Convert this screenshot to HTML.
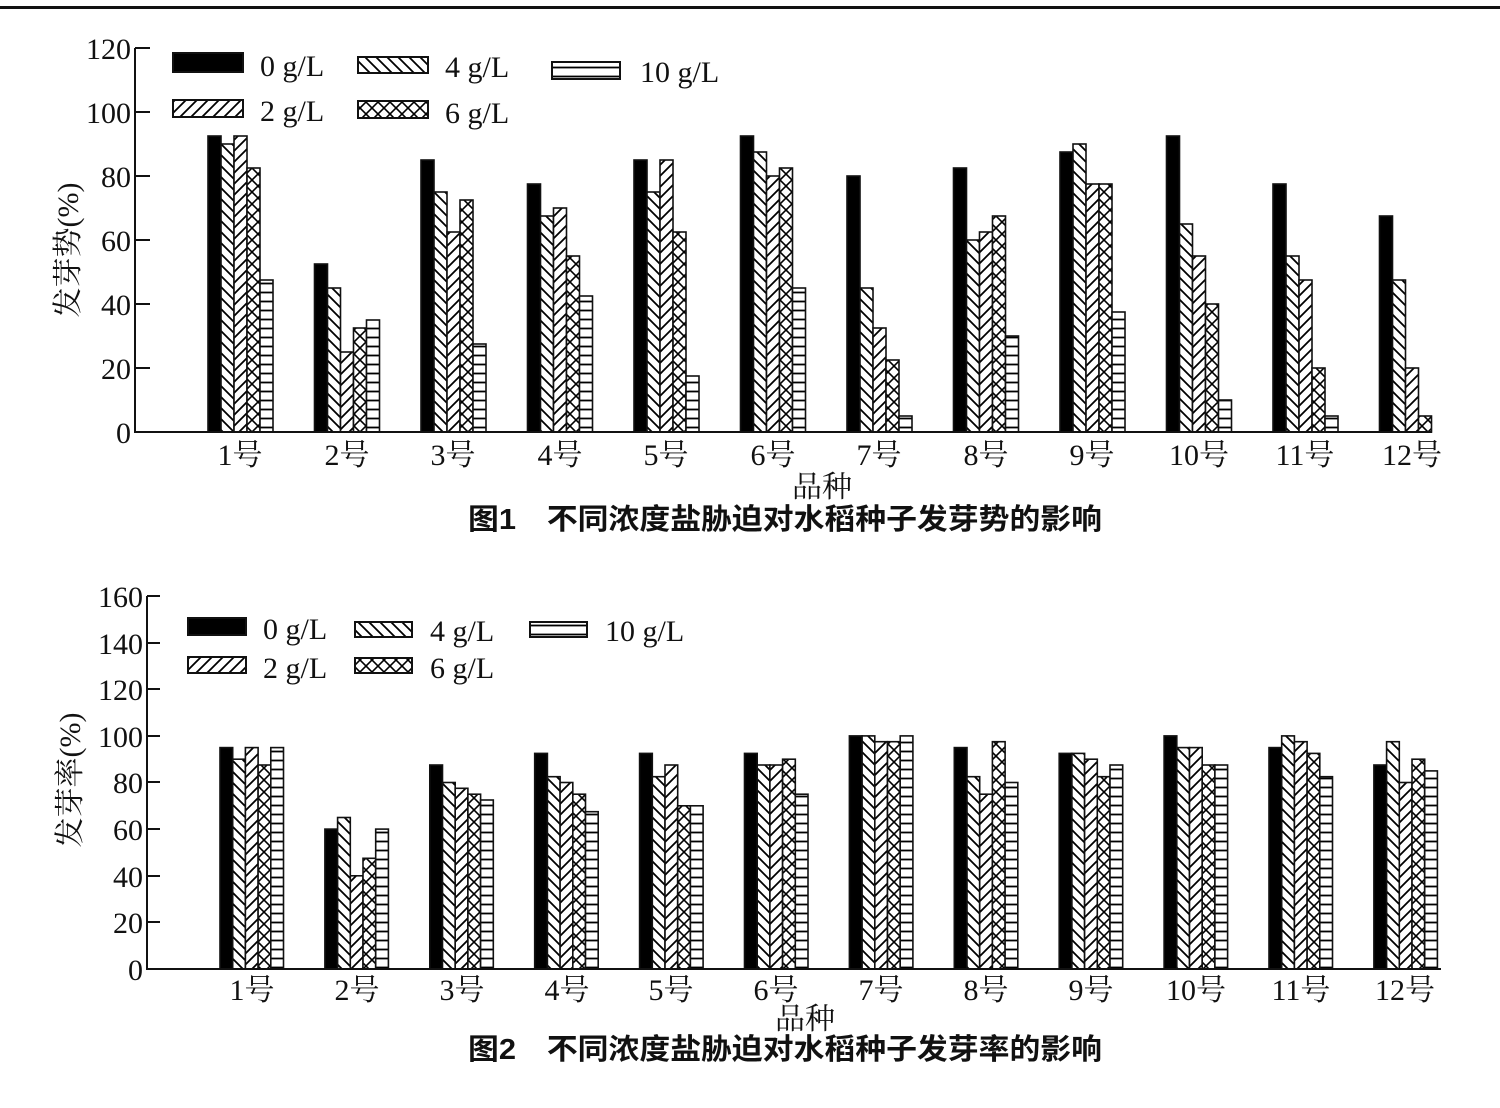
<!DOCTYPE html>
<html><head><meta charset="utf-8"><style>
html,body{margin:0;padding:0;background:#fff;}
svg{display:block;}
.t{font-family:"Liberation Serif","Noto Serif CJK SC",serif;font-size:30px;fill:#111;}
.c{font-family:"Liberation Sans","Noto Sans CJK SC",sans-serif;font-size:29px;font-weight:bold;fill:#111;}
</style></head><body>
<svg id="s" width="1500" height="1108" xmlns="http://www.w3.org/2000/svg">
<defs>
<pattern id="pb" width="11" height="11" patternUnits="userSpaceOnUse"><rect width="11" height="11" fill="#fff"/><path d="M-2,-2L13,13M-2,9L2,13M9,-2L13,2" stroke="#000" stroke-width="1.8"/></pattern>
<pattern id="ps" width="11" height="11" patternUnits="userSpaceOnUse"><rect width="11" height="11" fill="#fff"/><path d="M-2,13L13,-2M-2,2L2,-2M9,13L13,9" stroke="#000" stroke-width="1.8"/></pattern>
<pattern id="px" width="12" height="12" patternUnits="userSpaceOnUse"><rect width="12" height="12" fill="#fff"/><path d="M0,0L12,12M0,12L12,0" stroke="#000" stroke-width="1.6"/></pattern>
<pattern id="ph" width="9" height="9" patternUnits="userSpaceOnUse"><rect width="9" height="9" fill="#fff"/><path d="M0,4.5L9,4.5" stroke="#000" stroke-width="1.8"/></pattern>
</defs>
<rect x="0" y="6" width="1500" height="3" fill="#111"/>
<g id="bars"></g>
<g stroke="#111" stroke-width="2" fill="none">
<path d="M135,48V432H1432"/>
<path d="M135,48H150M135,112H150M135,176H150M135,240H150M135,304H150M135,368H150"/>
<path d="M147,596V969H1441"/>
<path d="M147,596H160M147,643H160M147,689H160M147,736H160M147,782H160M147,829H160M147,876H160M147,922H160"/>
</g>
<g class="t" text-anchor="end">
<text x="131" y="59">120</text><text x="131" y="123">100</text><text x="131" y="187">80</text><text x="131" y="251">60</text><text x="131" y="315">40</text><text x="131" y="379">20</text><text x="131" y="443">0</text>
<text x="143" y="607">160</text><text x="143" y="654">140</text><text x="143" y="700">120</text><text x="143" y="747">100</text><text x="143" y="793">80</text><text x="143" y="840">60</text><text x="143" y="887">40</text><text x="143" y="933">20</text><text x="143" y="980">0</text>
</g>
<g class="t" text-anchor="middle">
<text x="240" y="465">1号</text><text x="347" y="465">2号</text><text x="453" y="465">3号</text><text x="560" y="465">4号</text><text x="666" y="465">5号</text><text x="773" y="465">6号</text><text x="879" y="465">7号</text><text x="986" y="465">8号</text><text x="1092" y="465">9号</text><text x="1199" y="465">10号</text><text x="1305" y="465">11号</text><text x="1412" y="465">12号</text>
<text x="822" y="497">品种</text>
<text x="252" y="1000">1号</text><text x="357" y="1000">2号</text><text x="462" y="1000">3号</text><text x="567" y="1000">4号</text><text x="671" y="1000">5号</text><text x="776" y="1000">6号</text><text x="881" y="1000">7号</text><text x="986" y="1000">8号</text><text x="1091" y="1000">9号</text><text x="1196" y="1000">10号</text><text x="1301" y="1000">11号</text><text x="1405" y="1000">12号</text>
<text x="805" y="1029">品种</text>
</g>
<text class="t" transform="translate(78,250) rotate(-90)" text-anchor="middle">发芽势(%)</text>
<text class="t" transform="translate(80,780) rotate(-90)" text-anchor="middle">发芽率(%)</text>
<g stroke="#111" stroke-width="2">
<rect x="173" y="53" width="70" height="19" fill="#000"/>
<rect x="358" y="57" width="70" height="16" fill="url(#pb)"/>
<rect x="552" y="62" width="68" height="17" fill="url(#ph)"/>
<rect x="173" y="100" width="70" height="17" fill="url(#ps)"/>
<rect x="358" y="101" width="70" height="17" fill="url(#px)"/>
<rect x="188" y="618" width="58" height="17" fill="#000"/>
<rect x="355" y="622" width="57" height="15" fill="url(#pb)"/>
<rect x="530" y="622" width="57" height="15" fill="url(#ph)"/>
<rect x="188" y="657" width="58" height="16" fill="url(#ps)"/>
<rect x="355" y="658" width="57" height="15" fill="url(#px)"/>
</g>
<g class="t">
<text x="260" y="76">0 g/L</text><text x="445" y="77">4 g/L</text><text x="640" y="82">10 g/L</text>
<text x="260" y="121">2 g/L</text><text x="445" y="123">6 g/L</text>
<text x="263" y="639">0 g/L</text><text x="430" y="641">4 g/L</text><text x="605" y="641">10 g/L</text>
<text x="263" y="678">2 g/L</text><text x="430" y="678">6 g/L</text>
</g>
<text class="c" x="468" y="529" textLength="634" lengthAdjust="spacingAndGlyphs">图1　不同浓度盐胁迫对水稻种子发芽势的影响</text>
<text class="c" x="468" y="1059" textLength="634" lengthAdjust="spacingAndGlyphs">图2　不同浓度盐胁迫对水稻种子发芽率的影响</text>
</svg>
<script>
var d1=[[92.5,90,92.5,82.5,47.5],[52.5,45,25,32.5,35],[85,75,62.5,72.5,27.5],[77.5,67.5,70,55,42.5],[85,75,85,62.5,17.5],[92.5,87.5,80,82.5,45],[80,45,32.5,22.5,5],[82.5,60,62.5,67.5,30],[87.5,90,77.5,77.5,37.5],[92.5,65,55,40,10],[77.5,55,47.5,20,5],[67.5,47.5,20,5,0]];
var d2=[[95,90,95,87.5,95],[60,65,40,47.5,60],[87.5,80,77.5,75,72.5],[92.5,82.5,80,75,67.5],[92.5,82.5,87.5,70,70],[92.5,87.5,87.5,90,75],[100,100,97.5,97.5,100],[95,82.5,75,97.5,80],[92.5,92.5,90,82.5,87.5],[100,95,95,87.5,87.5],[95,100,97.5,92.5,82.5],[87.5,97.5,80,90,85]];
var f=["#000","url(#pb)","url(#ps)","url(#px)","url(#ph)"];
var g=document.getElementById("bars"),h="";
function draw(d,x0,sp,bw,y0,sc){for(var i=0;i<12;i++)for(var k=0;k<5;k++){var v=d[i][k];if(!v)continue;var x=x0+sp*i+bw*k,hh=v*sc;h+='<rect x="'+x.toFixed(1)+'" y="'+(y0-hh).toFixed(1)+'" width="'+bw+'" height="'+hh.toFixed(1)+'" fill="'+f[k]+'" stroke="#111" stroke-width="1.6"/>';}}
draw(d1,208,106.5,13,432,3.2);
draw(d2,220,104.9,12.7,969,2.331);
g.innerHTML=h;
</script>
</body></html>
